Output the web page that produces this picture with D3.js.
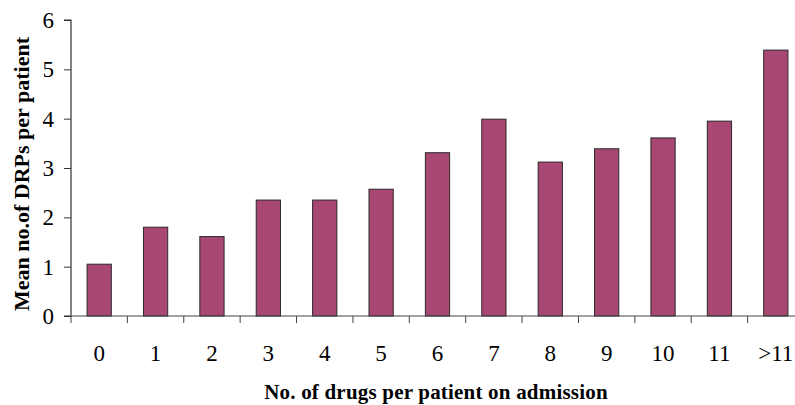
<!DOCTYPE html>
<html><head><meta charset="utf-8">
<script src="https://cdn.jsdelivr.net/npm/d3@7"></script>
<style>html,body{margin:0;padding:0;background:#fff;overflow:hidden}</style>
</head><body>
<svg id="c" width="795" height="405"></svg>
<script>
const categories = ["0","1","2","3","4","5","6","7","8","9","10","11",">11"];
const values = [1.05,1.80,1.61,2.35,2.35,2.57,3.31,3.99,3.12,3.39,3.61,3.95,5.39];
const yTicks = [0,1,2,3,4,5,6];

(function(){
const svg = d3.select("#c");
const mL = 71, mR = 804, mT = 20, mB = 316;
const x = d3.scaleBand().domain(categories).range([mL, mR]).paddingInner(0).paddingOuter(0);
const y = d3.scaleLinear().domain([0,6]).range([mB, mT]);
const font = "'Liberation Serif','Times New Roman',serif";

// bars
const bw = x.bandwidth()*0.43;
svg.append("g").selectAll("rect").data(values).join("rect")
  .attr("x",(d,i)=>x(categories[i]) + (x.bandwidth()-bw)/2)
  .attr("y",d=>y(d))
  .attr("width",bw)
  .attr("height",d=>y(0)-y(d))
  .attr("fill","#A84872")
  .attr("stroke","#2a2a2a")
  .attr("stroke-width",1);

// y axis
const ya = svg.append("g").attr("transform",`translate(${mL},0)`)
  .call(d3.axisLeft(y).tickValues(yTicks).tickSize(7).tickPadding(10).tickFormat(d3.format("d")));
ya.select(".domain").attr("stroke","#333").attr("stroke-width",1.2).attr("d",`M-7,${mT}H0V${mB}H-7`);
ya.selectAll(".tick line").attr("stroke","#333");
ya.selectAll("text").attr("font-family",font).attr("font-size",23).attr("fill","#000");

// x axis
const xa = svg.append("g").attr("transform",`translate(0,${mB})`);
xa.append("line").attr("x1",mL).attr("x2",mR).attr("y1",0).attr("y2",0).attr("stroke","#444").attr("stroke-width",1.2);
const bounds = categories.map(c=>x(c)).concat([mR]);
xa.selectAll("line.tk").data(bounds).join("line").attr("class","tk")
  .attr("x1",d=>d).attr("x2",d=>d).attr("y1",0).attr("y2",7).attr("stroke","#444");
xa.selectAll("text").data(categories).join("text")
  .attr("x",d=>x(d)+x.bandwidth()/2).attr("y",44.5)
  .attr("text-anchor","middle").attr("font-family",font).attr("font-size",23).attr("fill","#000")
  .text(d=>d);

// titles
svg.append("text").attr("x",436).attr("y",399).attr("text-anchor","middle")
  .attr("font-family",font).attr("font-size",21).attr("letter-spacing",0.2).attr("font-weight","bold").text("No. of drugs per patient on admission");
svg.append("text").attr("transform","translate(29,174) rotate(-90)").attr("text-anchor","middle")
  .attr("font-family",font).attr("font-size",22).attr("font-weight","bold").text("Mean no.of DRPs per patient");
})();
</script>
</body></html>
